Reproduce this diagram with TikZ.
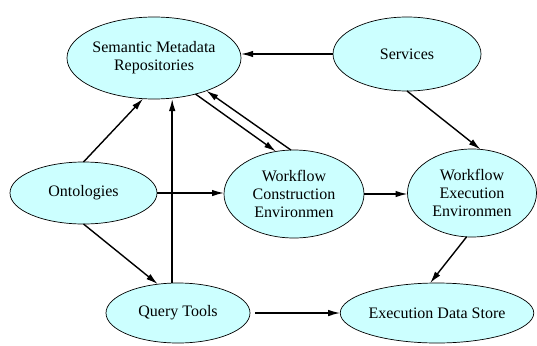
\documentclass[tikz,border=0pt]{standalone}
\usepackage{fontspec}
\setmainfont{Liberation Serif}
\usetikzlibrary{shapes.geometric,arrows.meta}
\definecolor{bubble}{HTML}{CCFFFF}
\tikzset{
  bub/.style={ellipse, draw=black, line width=0.7pt, fill=bubble, inner sep=0pt, outer sep=0pt,
    align=center, font=\fontsize{16}{18}\selectfont},
  link/.style={line width=1.4pt, -{Latex[length=12pt,width=6.5pt]}}
}
\begin{document}
\begin{tikzpicture}[x=1pt,y=-1pt]
\useasboundingbox (0,0) rectangle (537,345);
% components
\node[bub, minimum width=170pt, minimum height=82pt] (smr) at (154,58) {Semantic Metadata\\Repositories};
\node[bub, minimum width=148pt, minimum height=74pt] (sv) at (407,54) {Services};
\node[bub, minimum width=147pt, minimum height=62pt] (on) at (83.5,193) {Ontologies};
\node[bub, minimum width=140pt, minimum height=88pt] (wc) at (294,194) {Workflow\\Construction\\Environmen};
\node[bub, minimum width=129pt, minimum height=88pt] (we) at (472,193) {Workflow\\Execution\\Environmen};
\node[bub, minimum width=144pt, minimum height=60pt] (qt) at (178,313) {Query Tools};
\node[bub, minimum width=148pt, minimum height=60pt] (eds) at (437,313) {Execution Data Store};
% data flow
\draw[link] (sv.west) -- (sv.west -| smr.east);
\draw[link] (sv.south) -- (we.79);
\draw[link] (on.north) -- (smr.255);
\draw[link] (qt.101) -- (qt.101 |- smr.south);
\draw[link] (smr.319) -- (wc.113);
\draw[link] (wc.94) -- (smr.328);
\draw[link] (on.east) -- (on.east -| wc.west);
\draw[link] (on.south) -- (qt.125);
\draw[link] (wc.east) -- (wc.east -| we.west);
\draw[link] (we.263) -- (eds.103);
\draw[link, shorten <=5pt] (qt.east) -- (eds.west);
\end{tikzpicture}
\end{document}
